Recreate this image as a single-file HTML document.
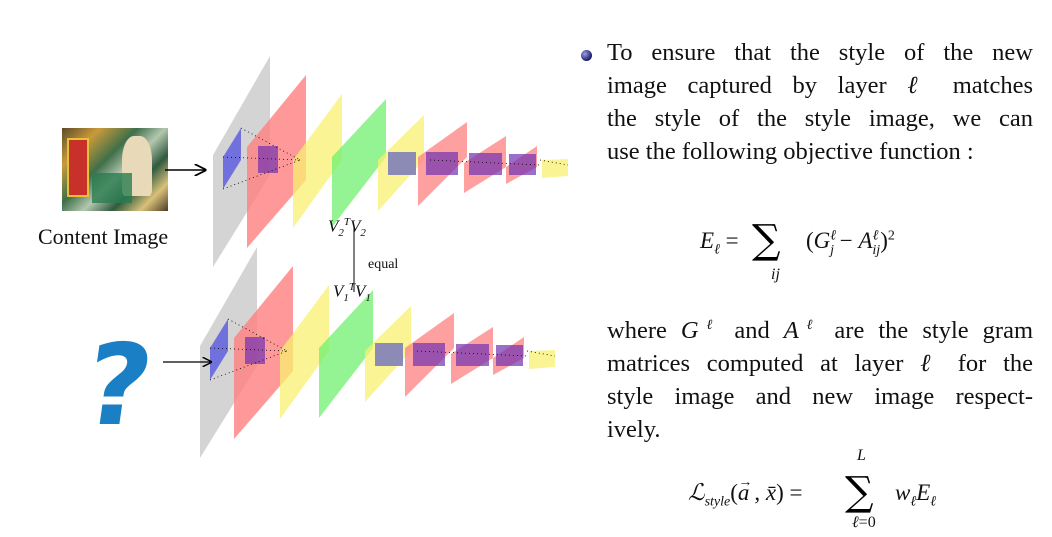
<!DOCTYPE html>
<html><head><meta charset="utf-8"><style>
body{margin:0;background:#fff;width:1052px;height:537px;overflow:hidden;position:relative;font-family:"Liberation Serif",serif}
.t{position:absolute;color:#111}
.ln{position:absolute;left:607px;width:426px;font-size:24.5px;text-align:justify;text-align-last:justify;color:#111;white-space:nowrap}
.ln.last{text-align-last:left}
i{font-style:italic}
.sum{position:absolute;font-family:"DejaVu Serif",serif;font-size:40px;line-height:40px}
</style></head><body>
<div style="position:absolute;left:62px;top:128px;width:106px;height:83px;background:linear-gradient(135deg,#5b4a2a 0%,#c99a3a 20%,#3f6f4a 40%,#b4c7b0 55%,#2f5a3e 70%,#d9c17a 85%,#4a3b24 100%)">
<div style="position:absolute;left:5px;top:10px;width:18px;height:55px;background:#c8312a;border:2px solid #e6c23b"></div>
<div style="position:absolute;left:60px;top:8px;width:30px;height:60px;background:#e8d9b8;border-radius:40% 40% 10% 10%"></div>
<div style="position:absolute;left:30px;top:45px;width:40px;height:30px;background:#2a7c50;opacity:.8"></div>
</div>
<div class="t" style="left:38px;top:224px;font-size:22px">Content Image</div>
<div style="position:absolute;left:86px;top:330px;font:bold 112px 'DejaVu Sans',sans-serif;line-height:112px;color:#1a7fc4;transform:skewX(-8deg)">?</div>

<svg width="1052" height="537" style="position:absolute;left:0;top:0">
<defs><marker id="ar" markerWidth="8" markerHeight="8" refX="7" refY="4" orient="auto"><path d="M0,0L8,4L0,8" fill="none" stroke="#000" stroke-width="1.2"/></marker></defs>
<g id="net">
<polygon points="213,155 270,56 270,175 213,267" fill="#d4d4d4"/>
<polygon points="247,147 306,75 306,180 247,248" fill="#ff8080" opacity=".8"/>
<polygon points="293,160 342,94 342,160 293,228" fill="#f8f070" opacity=".75"/>
<polygon points="332,157 386,99 386,157 332,227" fill="#70f070" opacity=".75"/>
<polygon points="378,160 424,115 424,160 378,211" fill="#f8f070" opacity=".75"/>
<polygon points="418,157 467,122 467,157 418,206" fill="#ff8080" opacity=".75"/>
<polygon points="464,163 506,136 506,167 464,193" fill="#ff8080" opacity=".75"/>
<polygon points="506,167 537,146 537,167 506,184" fill="#ff8080" opacity=".75"/>
<polygon points="542,160 568,159 568,176 542,178" fill="#f8f070" opacity=".75"/>
<polygon points="223,157 241,128 241,160 223,189" fill="#5050e0" opacity=".75"/>
<rect x="258" y="146" width="20" height="27" fill="#7030b0" opacity=".7"/>
<rect x="388" y="152" width="28" height="23" fill="#8080b8" opacity=".9"/>
<rect x="426" y="152" width="32" height="23" fill="#7030b0" opacity=".7"/>
<rect x="469" y="153" width="33" height="22" fill="#7030b0" opacity=".7"/>
<rect x="509" y="154" width="27" height="21" fill="#7030b0" opacity=".7"/>
<g stroke="#000" stroke-width=".8" stroke-dasharray="1,3" fill="none">
<line x1="241" y1="128" x2="300" y2="160"/><line x1="223" y1="189" x2="300" y2="160"/><line x1="223" y1="157" x2="300" y2="160"/>
<line x1="430" y1="160" x2="540" y2="165"/><line x1="540" y1="160" x2="568" y2="165"/>
</g>
</g>
<use href="#net" transform="translate(-13,191)"/>
<line x1="165" y1="170" x2="205" y2="170" stroke="#000" stroke-width="1.5" marker-end="url(#ar)"/>
<line x1="163" y1="362" x2="211" y2="362" stroke="#000" stroke-width="1.2" marker-end="url(#ar)"/>
<line x1="354" y1="228" x2="354" y2="292" stroke="#000" stroke-width="1"/>
</svg>
<div class="t" style="left:328px;top:216px;font-size:17px;font-style:italic">V<sub style="font-size:11px">2</sub><sup style="font-size:11px">T</sup>V<sub style="font-size:11px">2</sub></div>
<div class="t" style="left:368px;top:257px;font-size:14px">equal</div>
<div class="t" style="left:333px;top:281px;font-size:17px;font-style:italic">V<sub style="font-size:11px">1</sub><sup style="font-size:11px">T</sup>V<sub style="font-size:11px">1</sub></div>

<div style="position:absolute;left:581px;top:50px;width:11px;height:11px;border-radius:50%;background:radial-gradient(circle at 35% 35%,#9aa0e0,#1a1a6a 70%)"></div>
<div>
<div class="ln" style="top:39px">To ensure that the style of the new</div>
<div class="ln" style="top:72px">image captured by layer <i>ℓ</i> matches</div>
<div class="ln" style="top:105px">the style of the style image, we can</div>
<div class="ln last" style="top:138px">use the following objective function :</div>
</div>
<div>
<div class="t" style="left:700px;top:228px;font-size:23px"><i>E<sub style="font-size:14px">ℓ</sub></i> =</div>
<div class="sum" style="left:752px;top:220px">∑</div>
<div class="t" style="left:771px;top:266px;font-size:16px;font-style:italic">ij</div>
<div class="t" style="left:806px;top:228px;font-size:23px">(<i>G<sup style="font-size:14px">ℓ</sup><sub style="font-size:14px;margin-left:-6px">j</sub></i> − <i>A<sup style="font-size:14px">ℓ</sup><sub style="font-size:14px;margin-left:-6px">ij</sub></i>)<sup style="font-size:14px">2</sup></div>
</div>
<div>
<div class="ln" style="top:317px">where <i>G<sup style="font-size:14px">ℓ</sup></i> and <i>A<sup style="font-size:14px">ℓ</sup></i> are the style gram</div>
<div class="ln" style="top:350px">matrices computed at layer <i>ℓ</i> for the</div>
<div class="ln" style="top:383px">style image and new image respect-</div>
<div class="ln last" style="top:416px">ively.</div>
</div>
<div>
<div class="t" style="left:688px;top:480px;font-size:23px"><i>ℒ<sub style="font-size:14px">style</sub></i>(<i>a</i><span style="position:relative;left:-11px;top:-14px;font-size:14px;margin-right:-9px">→</span>, <i>x̄</i>) =</div>
<div class="sum" style="left:845px;top:472px">∑</div>
<div class="t" style="left:857px;top:447px;font-size:16px;font-style:italic">L</div>
<div class="t" style="left:852px;top:514px;font-size:16px"><i>ℓ</i>=0</div>
<div class="t" style="left:895px;top:480px;font-size:23px"><i>w<sub style="font-size:14px">ℓ</sub>E<sub style="font-size:14px">ℓ</sub></i></div>
</div>
</body></html>
